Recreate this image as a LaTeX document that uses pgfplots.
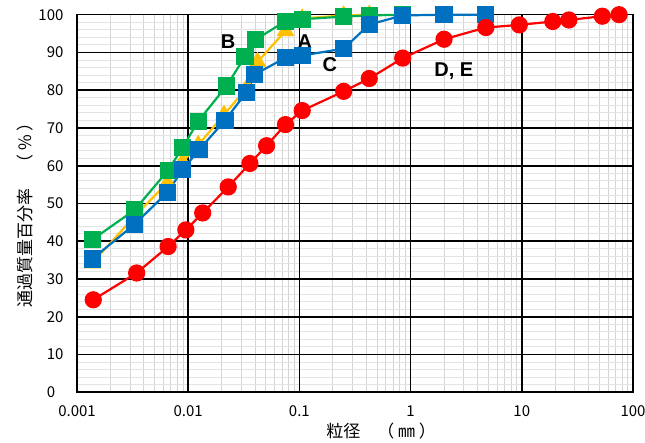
\documentclass[border=0pt]{standalone}
\usepackage{fontspec}
\setmainfont{Noto Sans CJK JP}
\newfontfamily\arial{Liberation Sans}
\usepackage{pgfplots}
\pgfplotsset{compat=1.18}
\definecolor{cA}{HTML}{FFC000}
\definecolor{cB}{HTML}{00B050}
\definecolor{cC}{HTML}{0070C0}
\definecolor{cD}{HTML}{FF0000}
\definecolor{minorx}{HTML}{D4D4D4}
\definecolor{minory}{HTML}{E3E3E3}
\begin{document}
\begin{tikzpicture}
\useasboundingbox (-77pt,-50.7pt) rectangle (568pt,392.3pt);
% minor grid layer
\begin{axis}[
  xmode=log, log basis x=10,
  at={(0,0)}, anchor=south west, scale only axis,
  width=556pt, height=377.6pt,
  xmin=0.001, xmax=100, ymin=0, ymax=100,
  tick style={draw=none},
  axis line style={draw=none},
  xtick={0.001,0.01,0.1,1,10,100},
  ytick={0,10,...,100},
  xticklabels={}, yticklabels={},
  minor xtick={0.002,0.003,0.004,0.005,0.006,0.007,0.008,0.009,
    0.02,0.03,0.04,0.05,0.06,0.07,0.08,0.09,
    0.2,0.3,0.4,0.5,0.6,0.7,0.8,0.9,
    2,3,4,5,6,7,8,9,20,30,40,50,60,70,80,90},
  minor ytick={2,4,6,8,12,14,16,18,22,24,26,28,32,34,36,38,42,44,46,48,
    52,54,56,58,62,64,66,68,72,74,76,78,82,84,86,88,92,94,96,98},
  grid=minor,
  minor x grid style={minorx, line width=1pt},
  minor y grid style={minory, line width=1pt},
]
\addplot[draw=none] coordinates {(0.01,50)};
\end{axis}
% main layer
\begin{axis}[
  xmode=log, log basis x=10,
  at={(0,0)}, anchor=south west, scale only axis,
  width=556pt, height=377.6pt,
  xmin=0.001, xmax=100, ymin=0, ymax=100,
  tick style={draw=none},
  xtick={0.001,0.01,0.1,1,10,100},
  xticklabels={0.001,0.01,0.1,1,10,100},
  minor xtick={},
  ytick={0,10,...,100},
  yticklabels={{0\phantom{0}},10,20,30,40,50,60,70,80,90,100},
  grid=major,
  major grid style={black, line width=1.6pt},
  axis line style={black, line width=1.6pt},
  tick label style={font=\fontsize{15}{15}\selectfont},
  /pgf/number format/assume math mode=true,
  yticklabel style={xshift=-10pt},
  xticklabel style={yshift=-10pt},
  xlabel={粒径　（ ㎜ ）},
  ylabel={通過質量百分率　（ \% ）},
  label style={font=\fontsize{17}{17}\selectfont},
  xlabel style={at={(axis description cs:0.547,0)}, anchor=north, yshift=-27pt},
  ylabel style={at={(axis description cs:0,0.48)}, anchor=south, yshift=40pt},
  clip=false,
]
% A
\addplot[cA, line width=2.2pt, mark=triangle*, mark size=8pt, mark options={fill=cA, draw=cA}] coordinates {
(0.00137,34.2) (0.00327,46.5) (0.0065,55.5) (0.0089,61) (0.0123,65.5)
(0.021,73.5) (0.034,80.8) (0.042,87.5) (0.075,95.7) (0.106,99)
(0.25,99.8) (0.425,100)
};
% B
\addplot[cB, line width=2.2pt, mark=square*, mark size=7.5pt, mark options={fill=cB, draw=cB}] coordinates {
(0.00137,40.4) (0.0033,48.3) (0.0066,58.8) (0.0089,64.8) (0.0123,71.8)
(0.0221,81.1) (0.0324,88.9) (0.0404,93.4) (0.075,98.3) (0.106,98.8)
(0.25,99.5) (0.425,99.8) (0.85,100)
};
% C
\addplot[cC, line width=2.2pt, mark=square*, mark size=7.5pt, mark options={fill=cC, draw=cC}] coordinates {
(0.00137,35.3) (0.00327,44.4) (0.00648,52.9) (0.0089,58.9) (0.0125,64.2)
(0.0214,72.0) (0.0335,79.5) (0.0398,84.2) (0.075,88.6) (0.106,89.2)
(0.25,91.0) (0.425,97.4) (0.85,99.8) (2,100) (4.75,100)
};
% D, E
\addplot[cD, line width=2.2pt, mark=*, mark size=7.5pt, mark options={fill=cD, draw=cD}] coordinates {
(0.0014,24.5) (0.00344,31.6) (0.0066,38.6) (0.00953,43.0) (0.0135,47.5)
(0.0229,54.4) (0.0359,60.6) (0.0507,65.3) (0.075,70.9) (0.106,74.6)
(0.25,79.7) (0.425,83.1) (0.85,88.5) (2,93.5) (4.75,96.6)
(9.5,97.3) (19,98.2) (26.5,98.6) (53,99.6) (75,100)
};
\node[font=\arial\bfseries\fontsize{20}{20}\selectfont] at (axis cs:0.0228,93) {B};
\node[font=\arial\bfseries\fontsize{20}{20}\selectfont] at (axis cs:0.112,93) {A};
\node[font=\arial\bfseries\fontsize{20}{20}\selectfont] at (axis cs:0.188,86.8) {C};
\node[font=\arial\bfseries\fontsize{20}{20}\selectfont] at (axis cs:2.45,85) {D, E};
\end{axis}
\end{tikzpicture}
\end{document}
